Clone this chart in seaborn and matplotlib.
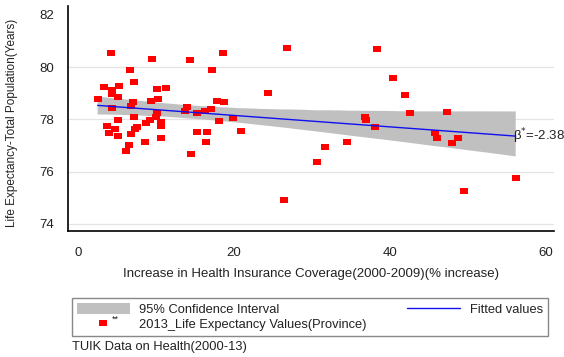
import numpy as np
import pandas as pd
import matplotlib
matplotlib.use("Agg")
import matplotlib.pyplot as plt
from matplotlib.patches import Patch
from matplotlib.lines import Line2D
from matplotlib.collections import PolyCollection
import seaborn as sns

# Increase in health insurance coverage 2000-2009 (%) per province
coverage = [
    4.20, 9.41, 14.36, 18.60, 26.86, 6.65, 17.19, 7.10, 3.34, 4.27,
    5.27, 10.15, 11.27, 24.32, 4.29, 5.14, 2.49, 7.07, 9.31, 10.21,
    17.83, 18.73, 4.37, 6.77, 13.93, 13.71, 15.22, 16.32, 17.02, 7.10,
    10.08, 9.99, 19.88, 5.14, 3.65, 4.72, 3.95, 5.04, 7.51, 7.29,
    8.70, 9.22, 10.63, 10.63, 6.77, 6.52, 6.09, 8.61, 10.63, 18.02,
    15.30, 16.50, 16.35, 14.49, 20.91, 26.41, 38.43, 40.42, 42.03, 42.64,
    47.43, 36.85, 36.98, 38.07, 31.71, 34.58, 30.72, 45.85, 46.04, 47.99,
    48.84, 56.20, 49.60,
]
# 2013 life expectancy (years) per province
life_expectancy = [
    80.53, 80.30, 80.26, 80.56, 80.75, 79.89, 79.89, 79.44, 79.24, 79.11,
    79.26, 79.15, 79.21, 79.02, 78.97, 78.85, 78.77, 78.68, 78.72, 78.78,
    78.70, 78.66, 78.44, 78.51, 78.46, 78.32, 78.26, 78.32, 78.39, 78.09,
    78.23, 78.10, 78.07, 77.98, 77.75, 77.62, 77.46, 77.36, 77.72, 77.63,
    77.88, 77.98, 77.91, 77.75, 77.44, 77.02, 76.79, 77.15, 77.28, 77.94,
    77.51, 77.53, 77.13, 76.67, 77.55, 74.91, 80.69, 79.57, 78.93, 78.23,
    78.30, 78.10, 77.98, 77.72, 76.95, 77.15, 76.38, 77.47, 77.27, 77.08,
    77.27, 75.74, 75.26,
]
x_ticks = [0, 20, 40, 60]
y_ticks = [74, 76, 78, 80, 82]
beta_label = r"β$^{*}$=-2.38"

df = pd.DataFrame({"coverage": coverage, "life_expectancy": life_expectancy})

sns.set_style("white")
plt.rcParams["font.family"] = ["Liberation Sans", "DejaVu Sans"]

RED = "#ff0000"
BLUE = "#1010f0"
BAND = "#c0c0c0"
rect = [(-4, -3), (4, -3), (4, 3), (-4, 3), (-4, -3)]

fig = plt.figure(figsize=(5.64, 3.57), dpi=100)
ax = fig.add_axes([0.121, 0.354, 0.861, 0.629])

sns.regplot(
    data=df, x="coverage", y="life_expectancy", ax=ax,
    ci=95, n_boot=2000, seed=7, marker=rect,
    scatter_kws=dict(color=RED, s=36, linewidths=0, alpha=1, zorder=3),
    line_kws=dict(color=BLUE, lw=1.0, zorder=4),
)
for coll in ax.collections:
    if isinstance(coll, PolyCollection):
        coll.set_facecolor(BAND)
        coll.set_edgecolor("none")
        coll.set_alpha(1)
        coll.set_zorder(2)

ax.set_xlim(-1.29, 61.1)
ax.set_ylim(73.74, 82.34)
ax.set_xticks(x_ticks)
ax.set_yticks(y_ticks)
ax.tick_params(axis="both", which="major", direction="out", length=4, width=1,
               color="black", labelsize=9.5, labelcolor="#222222")
ax.tick_params(axis="x", pad=8)
ax.tick_params(axis="y", pad=6)

for side in ("top", "right"):
    ax.spines[side].set_visible(False)
for side in ("left", "bottom"):
    ax.spines[side].set_color("black")
    ax.spines[side].set_linewidth(1.2)

for yv in y_ticks[:-1]:
    ax.axhline(yv, color="#e4e4e4", lw=0.9, zorder=0)

ax.set_xlabel("Increase in Health Insurance Coverage(2000-2009)(% increase)",
              fontsize=9.5, color="#222222")
ax.set_ylabel("Life Expectancy-Total Population(Years)", fontsize=8.5, color="#222222")
ax.xaxis.set_label_coords(0.5, -0.168)
ax.yaxis.set_label_coords(-0.104, 0.48)

# slope annotation at the end of the fitted line
x_end = max(coverage)
fit = np.polyfit(coverage, life_expectancy, 1)
y_end = np.polyval(fit, x_end)
ax.annotate(beta_label, xy=(x_end, y_end), xytext=(-2, 0), textcoords="offset points",
            ha="left", va="center", fontsize=9.5, color="#222222", zorder=5)

handles = [
    Patch(facecolor=BAND, edgecolor="none"),
    Line2D([], [], marker=rect, markersize=5.8, color=RED, ls="none", markeredgewidth=0),
    Line2D([], [], color=BLUE, lw=1.0),
]
labels = ["95% Confidence Interval", "2013_Life Expectancy Values(Province)", "Fitted values"]
leg = fig.legend(
    handles, labels, ncol=2, mode="expand",
    bbox_to_anchor=(72.3 / 564, 1 - 335.7 / 357, (547.7 - 72.3) / 564, (335.7 - 296) / 357),
    loc="lower left", bbox_transform=fig.transFigure,
    fontsize=9.3, frameon=True, fancybox=False, framealpha=1,
    edgecolor="#888888", borderpad=0.35, handlelength=4.1, handleheight=1.0,
    handletextpad=0.75, labelspacing=0.15, borderaxespad=0, columnspacing=1.0,
)
leg.get_frame().set_linewidth(1.0)
for t in leg.get_texts():
    t.set_color("#222222")

fig.text(111.5 / 564, 1 - 319 / 357, "**", fontsize=6.5, color="#222222",
         ha="left", va="center", zorder=10)
fig.text(71.7 / 564, 1 - 346.7 / 357, "TUIK Data on Health(2000-13)", fontsize=9.3,
         color="#222222", ha="left", va="center")

fig.savefig("out.png", dpi=100, facecolor="white")
